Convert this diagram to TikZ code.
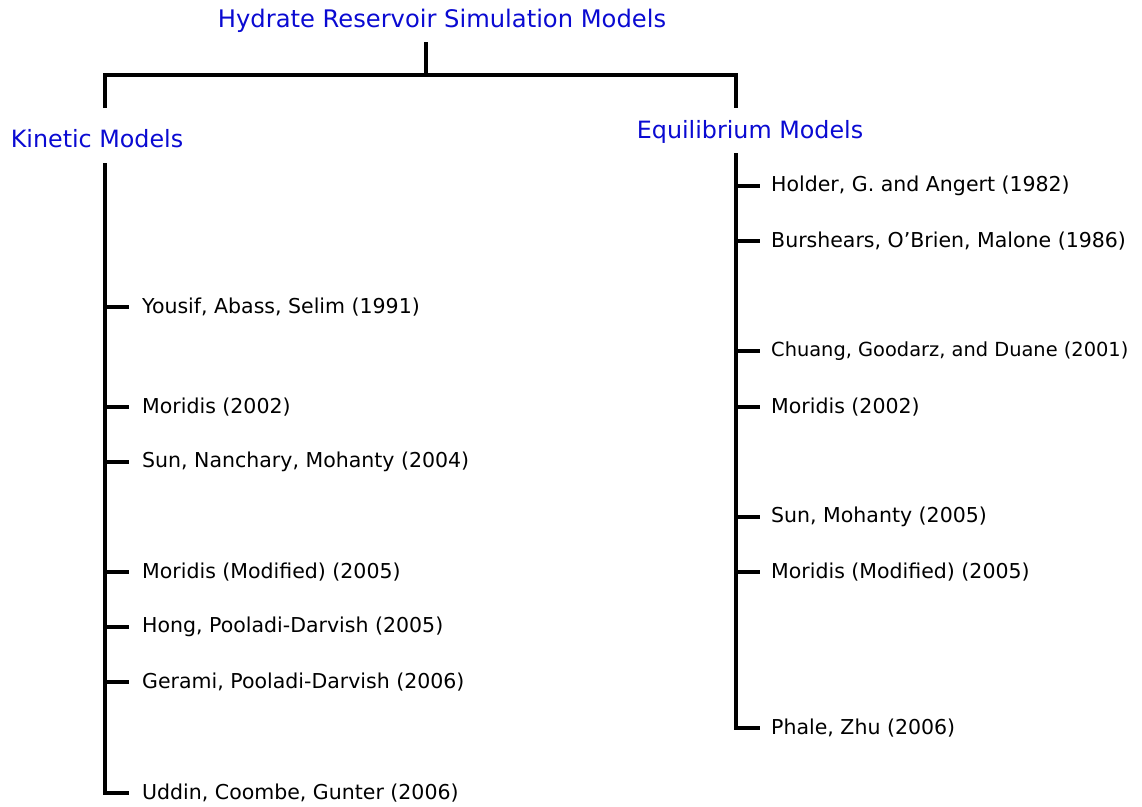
\documentclass[tikz,border=0pt]{standalone}
\usepackage{fontspec}
\setmainfont{DejaVu Sans}
\definecolor{hblue}{RGB}{10,10,210}
\begin{document}
\begin{tikzpicture}[x=1pt,y=-1pt,
  conn/.style={line width=4pt,black},
  titlebox/.style={text=hblue,font=\fontsize{24.2}{28}\selectfont,inner sep=0pt},
  catbox/.style={text=hblue,font=\fontsize{23.8}{28}\selectfont,inner sep=0pt},
  itembox/.style={text=black,font=\fontsize{20.5}{24}\selectfont,anchor=west,inner sep=0pt},
  tightitem/.style={itembox,font=\fontsize{19.4}{24}\selectfont}]
\useasboundingbox (0,0) rectangle (1142,806);
\node[titlebox] (root) at (442,21) {Hydrate Reservoir Simulation Models};
\coordinate (rootb) at (426,42);
\coordinate (j) at (426,75);
\coordinate (jl) at (105,75);
\coordinate (jr) at (736,75);
\coordinate (kl) at (105,108);
\coordinate (er) at (736,108);
\node[catbox] (kin) at (97,139) {Kinetic Models};
\node[catbox] (eq) at (750,132) {Equilibrium Models};
\draw[conn] (rootb) -- (j);
\draw[conn] (kl) -- (jl) -- (jr) -- (er);
% kinetic items
\coordinate (kt) at (105,163);
\node[itembox] (k1) at (142,307) {Yousif, Abass, Selim (1991)};
\node[itembox] (k2) at (142,407) {Moridis (2002)};
\node[itembox] (k3) at (142,462) {Sun, Nanchary, Mohanty (2004)};
\node[itembox] (k4) at (142,572) {Moridis (Modified) (2005)};
\node[itembox] (k5) at (142,627) {Hong, Pooladi-Darvish (2005)};
\node[itembox] (k6) at (142,682) {Gerami, Pooladi-Darvish (2006)};
\node[itembox] (k7) at (142,793) {Uddin, Coombe, Gunter (2006)};
\draw[conn] (kt) -- (kt |- k7.west) -- ([xshift=-13pt]k7.west);
\foreach \n in {k1,k2,k3,k4,k5,k6}
  \draw[conn] (kt |- \n.west) -- ([xshift=-13pt]\n.west);
% equilibrium items
\coordinate (et) at (736,153);
\node[itembox] (e1) at (771,186) {Holder, G. and Angert (1982)};
\node[itembox] (e2) at (771,241) {Burshears, O’Brien, Malone (1986)};
\node[tightitem] (e3) at (771,351) {Chuang, Goodarz, and Duane (2001)};
\node[itembox] (e4) at (771,407) {Moridis (2002)};
\node[itembox] (e5) at (771,517) {Sun, Mohanty (2005)};
\node[itembox] (e6) at (771,572) {Moridis (Modified) (2005)};
\node[itembox] (e7) at (771,728) {Phale, Zhu (2006)};
\draw[conn] (et) -- (et |- e7.west) -- ([xshift=-11pt]e7.west);
\foreach \n in {e1,e2,e3,e4,e5,e6}
  \draw[conn] (et |- \n.west) -- ([xshift=-11pt]\n.west);
\end{tikzpicture}
\end{document}
